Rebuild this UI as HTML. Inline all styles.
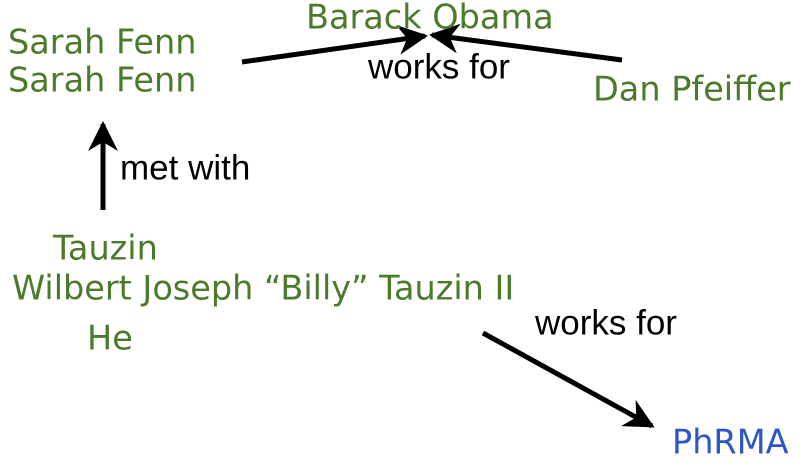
<!DOCTYPE html>
<html><head><style>
body{margin:0;width:803px;height:471px;background:#fff;position:relative;overflow:hidden}
.t{position:absolute;white-space:nowrap;line-height:1;transform:translateY(-50%)}
.g{color:#4b7a2b;font-family:"DejaVu Sans",sans-serif;font-size:33.5px}
.k{color:#000;font-family:"Liberation Sans",sans-serif;font-size:35px}
</style></head><body>
<svg width="803" height="471" style="position:absolute;left:0;top:0">
<defs><marker id="a" viewBox="0 0 10 10" refX="9" refY="5" markerWidth="6" markerHeight="6" orient="auto"><path d="M0,0 L10,5 L0,10 L3,5 z" fill="#000"/></marker></defs>
<g stroke="#000" stroke-width="5" fill="none">
<line x1="242" y1="62" x2="425" y2="36" marker-end="url(#a)"/>
<line x1="622" y1="60" x2="432" y2="35" marker-end="url(#a)"/>
<line x1="103" y1="210" x2="103" y2="124" marker-end="url(#a)"/>
<line x1="483" y1="333" x2="652" y2="426" marker-end="url(#a)"/>
</g></svg>
<div class="t g" style="left:306px;top:17px">Barack Obama</div>
<div class="t g" style="left:8px;top:42px">Sarah Fenn</div>
<div class="t g" style="left:8px;top:80px">Sarah Fenn</div>
<div class="t k" style="left:368px;top:67px">works for</div>
<div class="t g" style="left:593px;top:89px">Dan Pfeiffer</div>
<div class="t k" style="left:120px;top:168px">met with</div>
<div class="t g" style="left:53px;top:248px">Tauzin</div>
<div class="t g" style="left:12px;top:288px">Wilbert Joseph “Billy” Tauzin II</div>
<div class="t g" style="left:87px;top:338px">He</div>
<div class="t k" style="left:535px;top:323px">works for</div>
<div class="t g" style="left:672px;top:442px;color:#2b55c8">PhRMA</div>
</body></html>
